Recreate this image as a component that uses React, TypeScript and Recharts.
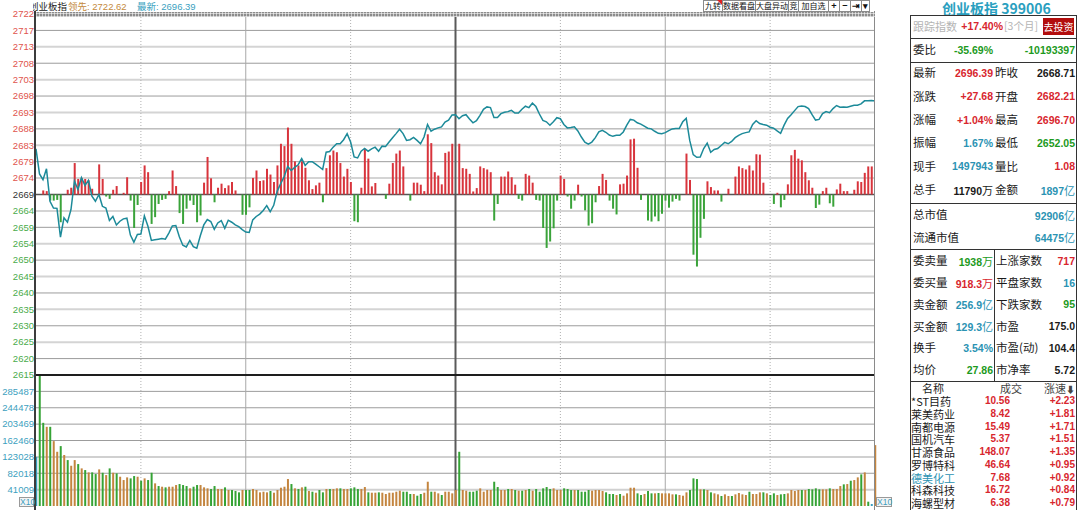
import React from "react";
import { ComposedChart, Line, Bar, Cell, XAxis, YAxis, CartesianGrid } from "recharts";

// 创业板指 399006 intraday, one point per minute (0 = 9:30, 120 = 11:30/13:00, 240 = 15:00)
const PREV_CLOSE = 2668.71;
const PRICE_LO = 2615.34;
const PRICE_HI = 2722.08;

// index change vs. previous close, in points
const indexChange = [
  13.5, 6.1, 4.4, 7.6, -2.0, -4.0, -4.1, -12.6, -6.9, -8.2,
  -4.5, 4.0, 1.5, 5.0, 2.7, 4.2, -0.5, -2.0, 0.0, -3.5,
  -4.0, -7.7, -6.5, -9.0, -7.9, -7.2, -7.0, -12.0, -14.1, -11.8,
  -11.7, -6.3, -9.3, -13.6, -13.4, -13.2, -13.0, -13.2, -11.4, -9.3,
  -9.2, -12.5, -15.0, -15.5, -13.6, -15.4, -15.9, -12.2, -9.0, -7.4,
  -8.0, -10.3, -8.4, -7.7, -10.0, -7.6, -8.2, -9.0, -9.5, -10.4,
  -11.1, -11.2, -7.5, -6.5, -5.8, -4.7, -3.3, -5.1, -3.2, 1.0,
  3.2, 5.3, 8.3, 7.1, 8.0, 8.8, 10.6, 8.6, 9.7, 9.7,
  9.0, 8.2, 7.4, 12.5, 12.7, 14.0, 15.0, 15.0, 16.2, 18.0,
  15.5, 11.1, 10.8, 12.8, 13.6, 12.8, 13.5, 14.0, 12.8, 14.3,
  14.2, 15.5, 16.8, 18.0, 19.3, 18.0, 16.0, 16.2, 16.9, 16.0,
  15.0, 17.0, 20.7, 18.7, 19.3, 19.7, 20.0, 21.4, 22.0, 23.5,
  23.6, 22.4, 23.3, 23.6, 22.3, 21.2, 21.8, 23.4, 25.2, 25.9,
  25.7, 22.8, 22.8, 23.9, 24.3, 24.5, 24.9, 24.1, 24.1, 25.2,
  26.1, 25.7, 27.0, 26.0, 23.8, 21.9, 21.5, 20.5, 21.5, 22.7,
  22.4, 20.7, 19.7, 19.8, 20.0, 18.8, 17.0, 15.5, 14.9, 15.5,
  16.8, 18.5, 19.0, 18.4, 17.6, 17.2, 17.5, 17.5, 18.5, 20.5,
  22.2, 22.0, 21.2, 20.8, 20.2, 19.6, 19.4, 18.7, 18.1, 18.0,
  18.3, 18.9, 19.4, 19.5, 19.5, 21.5, 22.5, 16.0, 11.8, 11.0,
  11.1, 13.6, 15.2, 12.5, 13.3, 13.6, 14.5, 15.4, 15.0, 15.7,
  16.8, 17.5, 18.0, 18.3, 18.5, 20.7, 21.8, 21.0, 20.7, 20.5,
  19.9, 19.6, 18.8, 18.1, 20.5, 22.5, 23.6, 24.8, 26.0, 26.2,
  26.0, 25.4, 23.6, 22.0, 22.2, 23.9, 24.5, 24.2, 25.4, 26.3,
  25.8, 25.9, 25.8, 26.1, 26.4, 26.4, 26.8, 27.7, 27.7, 27.8,
  27.68,
];

// red / green strength bars, drawn from the previous-close line (same point scale)
const buyPower = [
  0, 0, 1.2, 1.0, -1.8, -1.8, -1.6, -8.2, 0, 1.4,
  2.0, 9.3, 4.6, 4.9, 4.6, 4.2, 1.7, 0, 8.9, 4.6,
  -0.6, -1.3, 1.4, 2.5, 0, 0.5, 5.1, -1.8, -9.9, -3.1,
  3.7, 8.6, 6.6, -8.7, -6.7, -2.8, -1.6, -1.3, 1.0, 7.1,
  2.5, -5.5, -8.7, -4.2, -1.8, -3.1, -8.2, -6.2, 3.5, 11.1,
  4.8, -2.3, 2.0, 3.2, 1.9, 2.7, 3.7, 1.2, 0, -6.0,
  -6.0, -3.8, 4.9, 7.1, 4.0, 4.2, 7.6, 5.9, 3.7, 8.6,
  15.0, 14.3, 19.8, 15.0, 9.8, 8.6, 9.8, 7.9, 4.2, 1.6,
  2.7, 3.5, -2.3, 7.8, 11.6, 13.0, 12.5, 9.3, 5.3, 7.6,
  3.7, -7.9, -8.2, 2.0, 13.5, 10.6, 2.4, 3.4, 0, 0,
  -1.3, 3.2, 9.3, 12.1, 13.0, 8.3, 0, -1.8, 3.5, 3.5,
  2.9, 1.0, 17.8, 15.2, 6.6, 5.6, 3.0, 12.3, 12.7, 15.0,
  0, 15.0, 7.8, 7.6, 6.1, 0.9, 1.9, 8.3, 7.8, 7.4,
  6.6, -7.7, -2.8, 5.3, 5.3, 6.8, 5.1, 2.9, -1.3, -1.8,
  6.1, 5.6, 3.5, -1.6, -1.8, -9.9, -15.8, -13.9, -10.0, -1.8,
  5.6, 4.6, -0.6, -4.2, -1.8, 2.9, -0.6, -4.7, -9.2, -8.5,
  -2.3, 2.5, 6.1, 4.3, -1.8, -4.2, -5.9, 3.0, 3.2, 5.6,
  16.3, 16.5, 7.9, -1.6, 0, -7.7, -8.0, -6.5, -7.9, -5.7,
  -1.8, -3.9, -2.1, -1.3, -1.8, 0, 12.1, 4.3, -17.8, -21.3,
  -12.8, -7.2, 3.9, 2.2, 1.2, 1.2, -2.1, 0, 1.7, 0,
  5.3, 8.3, 7.8, 7.4, 8.6, 7.1, 11.9, 11.8, 3.5, 0,
  0, -2.8, 0.5, -3.8, -1.6, 3.0, 11.6, 13.2, 10.6, 10.1,
  6.6, 4.2, 2.0, -4.0, -3.0, 1.0, 2.0, -2.6, -3.6, 1.5,
  3.2, 1.0, 1.0, 0, 1.4, 3.9, 3.7, 6.4, 8.3, 8.3,
  0,
];

// volume per minute (hands / 10)
const volume = [
  123000, 327000, 208300, 198300, 198300, 162500, 135800, 150000, 127500, 115000,
  100800, 115000, 105000, 94200, 90000, 84200, 84200, 80000, 91700, 83300,
  77500, 94200, 83300, 81700, 73300, 65000, 71700, 69200, 75000, 73300,
  63300, 69200, 65000, 83300, 56700, 50000, 48300, 46700, 48300, 48300,
  52500, 55000, 52500, 50000, 44200, 48300, 52500, 52500, 46700, 44200,
  42500, 50000, 42500, 42500, 46700, 40000, 40000, 37500, 34200, 40000,
  40000, 40000, 42500, 40000, 34200, 35800, 34200, 37500, 33300, 40000,
  45800, 48300, 67500, 55000, 44200, 42500, 46700, 48300, 37500, 35800,
  33300, 40000, 34200, 42500, 42500, 42500, 44200, 44200, 42500, 42500,
  44200, 46700, 42500, 42500, 47500, 34200, 33300, 33300, 34200, 33300,
  30000, 33300, 33300, 35800, 38300, 35800, 35800, 30000, 30000, 25800,
  30000, 33300, 60800, 35800, 35800, 31700, 27500, 35800, 35800, 31700,
  40000, 135800, 40000, 38300, 35800, 35800, 38300, 44200, 35800, 40000,
  40000, 60800, 47500, 40000, 40000, 42500, 42500, 40000, 38300, 38300,
  40000, 42500, 38300, 42500, 35800, 44200, 47500, 42500, 44200, 40000,
  40000, 44200, 42500, 40000, 40000, 40000, 35800, 35800, 40000, 38300,
  40000, 40000, 37500, 34200, 30000, 30000, 27500, 30000, 25800, 31700,
  45800, 45800, 31700, 27500, 30000, 37500, 31700, 31700, 32500, 31700,
  31700, 31700, 29200, 29200, 27500, 25800, 34200, 40000, 69200, 67500,
  41700, 41700, 40000, 34200, 31700, 29200, 25000, 29200, 25000, 25000,
  29200, 32500, 29200, 27500, 35800, 30000, 30000, 34200, 34200, 31700,
  27500, 31700, 27500, 29200, 30000, 31700, 40000, 37500, 40000, 40000,
  40000, 42500, 41700, 44200, 41700, 41700, 41700, 44200, 42500, 42500,
  50000, 54200, 55000, 63300, 65000, 71700, 79200, 84200, 10800, 5000,
  152500,
];

// o = up tick, g = down tick, n = auction / unchanged
const volumeSide = (
  "nggogoogog" + "oogogoggog" + "ogogoooggo" + "goggogogoo" + "ogggoggooo" +
  "ggoogogggo" + "ggooooogoo" + "ooogogogog" + "oggogoogoo" + "gggoogoogo" +
  "ooooogggog" + "googoogooo" + "ogoogggooo" + "oggoogogog" + "ogogggggoo" +
  "ogggoggggo" + "ooogggogoo" + "ooggoggogo" + "ooogoooggg" + "ogogoogoog" +
  "oooogooogo" + "ggoggoooog" + "oggggoogoo" + "ogogoogogn" + "o"
).split("");

const priceTickLabels = [
  "2722", "2717", "2713", "2708", "2703", "2698", "2693", "2688", "2683", "2679", "2674", "2669",
  "2664", "2659", "2654", "2650", "2645", "2640", "2635", "2630", "2625", "2620", "2615",
];
const pctTickLabels = [
  "2.00%", "1.82%", "1.64%", "1.46%", "1.28%", "1.10%", "0.91%", "0.73%", "0.55%", "0.37%", "0.19%", "0.00%",
  "0.17%", "0.35%", "0.54%", "0.72%", "0.90%", "1.08%", "1.26%", "1.45%", "1.63%", "1.81%", "2.00%",
];
const volTickLabels = ["41009", "82018", "123028", "162460", "203469", "244478", "285487"];
const VOL_STEP = 41009;

const toolButtons = ["九转", "数据看盘", "大盘异动", "竞", "加自选", "+", "−", "⇥", "▾"];

const quoteLeft = [["最新", "2696.39"], ["涨跌", "+27.68"], ["涨幅", "+1.04%"], ["振幅", "1.67%"], ["现手", "1497943"], ["总手", "11790万"]];
const quoteRight = [["昨收", "2668.71"], ["开盘", "2682.21"], ["最高", "2696.70"], ["最低", "2652.05"], ["量比", "1.08"], ["金额", "1897亿"]];
const capRows = [["总市值", "92906亿"], ["流通市值", "64475亿"]];
const orderLeft = [["委卖量", "1938万"], ["委买量", "918.3万"], ["卖金额", "256.9亿"], ["买金额", "129.3亿"], ["换手", "3.54%"], ["均价", "27.86"]];
const orderRight = [["上涨家数", "717"], ["平盘家数", "16"], ["下跌家数", "95"], ["市盈", "175.0"], ["市盈(动)", "104.4"], ["市净率", "5.72"]];

const stockNames = ["*ST目药", "莱美药业", "南都电源", "国机汽车", "甘源食品", "罗博特科", "德美化工", "科森科技", "海螺型材"];
const stockLast = ["10.56", "8.42", "15.49", "5.37", "148.07", "46.64", "7.68", "16.72", "6.38"];
const stockSpeed = ["+2.23", "+1.81", "+1.71", "+1.51", "+1.35", "+0.95", "+0.92", "+0.84", "+0.79"];

const RED = "#d8262e";
const GREEN = "#1d9a1d";
const TEAL = "#2b93b3";
const DARK = "#1a1a1a";
const NUM = "'Liberation Sans', Arial, sans-serif";
const CJK = "'Noto Sans CJK SC', sans-serif";

const PRICE_STEP = (PRICE_HI - PRICE_LO) / 22;
const priceTicks = priceTickLabels.map((_, i) => PRICE_HI - i * PRICE_STEP);
const volTicks = volTickLabels.map((_, i) => (i + 1) * VOL_STEP);

const priceRows = indexChange.map((c, t) => {
  const b = buyPower[t];
  return {
    t,
    price: +(PREV_CLOSE + c).toFixed(2),
    power: b === 0 ? null : [Math.min(PREV_CLOSE, PREV_CLOSE + b), Math.max(PREV_CLOSE, PREV_CLOSE + b)],
  };
});
const volumeRows = volume.map((v, t) => ({ t, vol: v }));

const sideColor: Record<string, string> = { o: "#c4853f", g: "#35a335", n: "#3a9fbf" };

function tickColor(i: number) {
  return i < 11 ? "#e0544c" : i === 11 ? "#333" : "#4aab4a";
}

function PriceTick(props: any) {
  const { x, y, payload } = props;
  const i = Math.round((PRICE_HI - payload.value) / PRICE_STEP);
  return (
    <text x={x} y={y} dy={3.3} textAnchor="end" fontSize={9.5} fontFamily={NUM} fill={tickColor(i)}>
      {priceTickLabels[i]}
    </text>
  );
}

function PctTick(props: any) {
  const { x, y, payload } = props;
  const i = Math.round((PRICE_HI - payload.value) / PRICE_STEP);
  return (
    <text x={x} y={y} dy={3.3} textAnchor="start" fontSize={9.5} fontFamily={NUM} fill={tickColor(i)}>
      {pctTickLabels[i]}
    </text>
  );
}

function VolTick(props: any) {
  const { x, y, payload, anchor } = props;
  const i = Math.round(payload.value / VOL_STEP) - 1;
  return (
    <text x={x} y={y} dy={3.3} textAnchor={anchor} fontSize={9.5} fontFamily={NUM} fill="#3d9fc0">
      {volTickLabels[i]}
    </text>
  );
}

const dashedMinutes = [30, 90, 150, 210];
const solidMinutes = [60, 180];

function PriceChart() {
  const light = priceTicks.filter((_, i) => i % 2 === 0 && i > 0 && i < 22);
  const dark = priceTicks.filter((_, i) => i % 2 === 1 && i !== 11);
  return (
    <ComposedChart width={908} height={382} data={priceRows} margin={{ top: 14, right: 0, bottom: 7, left: 0 }}>
      <CartesianGrid vertical={false} horizontalValues={light} stroke="#d4d4d4" strokeWidth={2} />
      <CartesianGrid vertical={false} horizontalValues={dark} stroke="#9c9c9c" />
      <CartesianGrid horizontal={false} verticalValues={dashedMinutes} stroke="#b0b0b0" strokeDasharray="1 2" />
      <CartesianGrid horizontal={false} verticalValues={solidMinutes} stroke="#a8a8a8" />
      <CartesianGrid horizontal={false} verticalValues={[120]} stroke="#5a5a5a" strokeWidth={2} />
      <CartesianGrid vertical={false} horizontalValues={[PREV_CLOSE]} stroke="#555" strokeWidth={1.6} />
      <XAxis dataKey="t" type="number" domain={[0, 240]} hide />
      <YAxis
        domain={[PRICE_LO, PRICE_HI]}
        ticks={priceTicks}
        interval={0}
        width={36}
        axisLine={false}
        tickLine={false}
        tickSize={0}
        tickMargin={2}
        tick={<PriceTick />}
      />
      <YAxis
        yAxisId="r"
        orientation="right"
        domain={[PRICE_LO, PRICE_HI]}
        ticks={priceTicks}
        interval={0}
        width={33}
        axisLine={false}
        tickLine={false}
        tickSize={0}
        tickMargin={2}
        tick={<PctTick />}
      />
      <Bar dataKey="power" barSize={2} isAnimationActive={false}>
        {buyPower.map((b, i) => (
          <Cell key={i} fill={b > 0 ? "#d8343c" : "#3aa33a"} />
        ))}
      </Bar>
      <Line
        dataKey="price"
        type="linear"
        stroke="#1c8a99"
        strokeWidth={1.5}
        dot={false}
        activeDot={false}
        isAnimationActive={false}
      />
    </ComposedChart>
  );
}

function VolumeChart() {
  const light = [VOL_STEP, 3 * VOL_STEP];
  const dark = volTicks.filter((v) => !light.includes(v));
  return (
    <ComposedChart width={908} height={142} data={volumeRows} margin={{ top: 7, right: 0, bottom: 4, left: 0 }}>
      <CartesianGrid vertical={false} horizontalValues={light} stroke="#d0d0d0" strokeWidth={2} />
      <CartesianGrid vertical={false} horizontalValues={dark} stroke="#9c9c9c" />
      <CartesianGrid horizontal={false} verticalValues={dashedMinutes} stroke="#b0b0b0" strokeDasharray="1 2" />
      <CartesianGrid horizontal={false} verticalValues={solidMinutes} stroke="#a8a8a8" />
      <CartesianGrid horizontal={false} verticalValues={[120]} stroke="#5a5a5a" strokeWidth={2} />
      <XAxis dataKey="t" type="number" domain={[0, 240]} hide />
      <YAxis
        domain={[0, 8 * VOL_STEP]}
        ticks={volTicks}
        interval={0}
        width={36}
        axisLine={false}
        tickLine={false}
        tickSize={0}
        tickMargin={2}
        tick={<VolTick anchor="end" />}
      />
      <YAxis
        yAxisId="r"
        orientation="right"
        domain={[0, 8 * VOL_STEP]}
        ticks={volTicks}
        interval={0}
        width={33}
        axisLine={false}
        tickLine={false}
        tickSize={0}
        tickMargin={2}
        tick={<VolTick anchor="start" />}
      />
      <Bar dataKey="vol" barSize={2} isAnimationActive={false}>
        {volumeSide.map((s, i) => (
          <Cell key={i} fill={sideColor[s]} />
        ))}
      </Bar>
    </ComposedChart>
  );
}

function Txt({ x, y, children, color = DARK, size = 11, bold = false, right = false, font = CJK, h }: any) {
  const hh = h ?? size + 4;
  return (
    <div
      style={{
        position: "absolute",
        top: y - hh / 2,
        height: hh,
        lineHeight: `${hh}px`,
        left: right ? undefined : x,
        right: right ? 1080 - x : undefined,
        color,
        fontSize: size,
        fontWeight: bold ? 700 : 400,
        fontFamily: font,
        whiteSpace: "nowrap",
      }}
    >
      {children}
    </div>
  );
}

// value like "1938万": digits bold, unit in CJK
function Val({ x, y, text, color }: any) {
  const m = text.match(/^([^万亿]*)([万亿]?)$/);
  return (
    <Txt x={x} y={y} right color={color} size={10.5} font={NUM}>
      <span style={{ fontWeight: 700 }}>{m[1]}</span>
      {m[2] && <span style={{ fontFamily: CJK, fontSize: 11 }}>{m[2]}</span>}
    </Txt>
  );
}

function Line2({ x, y, w, h, c = "#333" }: any) {
  return <div style={{ position: "absolute", left: x, top: y, width: w, height: h, background: c }} />;
}

function Header() {
  const widths = [19, 33, 33, 10, 30, 11, 11, 11, 8];
  let x = 703;
  return (
    <>
      <div style={{ position: "absolute", left: 33, top: 0, width: 34, height: 12, overflow: "hidden" }}>
        <div style={{ position: "absolute", left: -4, top: 0, fontSize: 9.5, lineHeight: "12px", fontFamily: CJK, color: "#222", whiteSpace: "nowrap" }}>
          创业板指
        </div>
      </div>
      <Txt x={68} y={6} h={12} size={9.5} color="#c48a3c" font={NUM}>
        <span style={{ fontFamily: CJK }}>领先</span>: 2722.62
      </Txt>
      <Txt x={137} y={6} h={12} size={9.5} color="#3a9fc0" font={NUM}>
        <span style={{ fontFamily: CJK }}>最新</span>: 2696.39
      </Txt>
      <div
        style={{
          position: "absolute",
          left: 36,
          top: 12,
          width: 839,
          height: 5,
          backgroundColor: "#8c8c8c",
          backgroundImage:
            "repeating-linear-gradient(90deg, rgba(255,255,255,0.55) 0 1px, transparent 1px 3px), repeating-linear-gradient(0deg, rgba(255,255,255,0.55) 0 1px, transparent 1px 3px)",
        }}
      />
      {toolButtons.map((b, i) => {
        const left = x;
        x += widths[i];
        return (
          <div
            key={b}
            style={{
              position: "absolute",
              left,
              top: 0,
              width: widths[i] + 1,
              height: 12,
              border: "1px solid #8a8a8a",
              boxSizing: "border-box",
              background: "#fff",
              fontSize: i >= 5 ? 9 : 8,
              lineHeight: "10px",
              textAlign: "center",
              fontFamily: CJK,
              fontWeight: i >= 5 ? 700 : 400,
              color: "#111",
              whiteSpace: "nowrap",
              overflow: "hidden",
            }}
          >
            {b}
          </div>
        );
      })}
      <div
        style={{
          position: "absolute",
          left: 717,
          top: 0,
          width: 0,
          height: 0,
          borderTop: "5px solid #e02020",
          borderLeft: "5px solid transparent",
        }}
      />
    </>
  );
}

function Frame() {
  const box = {
    position: "absolute" as const,
    top: 497,
    height: 10,
    border: "1px solid #999",
    boxSizing: "border-box" as const,
    fontSize: 8.5,
    lineHeight: "8px",
    color: "#3d9fc0",
    fontFamily: NUM,
    textAlign: "center" as const,
    background: "#f4f4f4",
  };
  return (
    <>
      <Line2 x={34} y={11} w={2} h={499} c="#3c3c3c" />
      <Line2 x={874} y={11} w={1} h={499} c="#8a8a8a" />
      <Line2 x={36} y={374} w={838} h={2} c="#1e1e1e" />
      <div style={{ ...box, left: 19, width: 15 }}>X10</div>
      <div style={{ ...box, left: 876, width: 16 }}>X10</div>
    </>
  );
}

function SidePanel() {
  const leftColors = [RED, RED, RED, TEAL, TEAL, DARK];
  const rightColors = [DARK, RED, RED, GREEN, RED, TEAL];
  const orderLColors = [GREEN, RED, TEAL, TEAL, TEAL, GREEN];
  const orderRColors = [RED, TEAL, GREEN, DARK, DARK, DARK];
  return (
    <>
      <Txt x={942} y={8} h={15} size={14} bold color="#2a9fc0">创业板指 399006</Txt>
      <Line2 x={910} y={15} w={167} h={1} />
      <Line2 x={910} y={15} w={1} h={495} />
      <Line2 x={1076} y={15} w={1} h={495} />
      <Txt x={913} y={26} size={11} color="#b4b4b4">跟踪指数</Txt>
      <Txt x={1003} y={26} right size={10.5} bold font={NUM} color={RED}>+17.40%</Txt>
      <Txt x={1004} y={26} size={10.5} color="#b4b4b4">[3个月]</Txt>
      <div style={{ position: "absolute", left: 1043, top: 18, width: 31, height: 17, background: "#b20d0d", color: "#fff", fontSize: 10, lineHeight: "17px", textAlign: "center", fontFamily: CJK }}>去投资</div>
      <Line2 x={910} y={38} w={167} h={1} />
      <Txt x={913} y={50} size={11.5}>委比</Txt>
      <Txt x={993} y={50} right size={10.5} bold font={NUM} color={GREEN}>-35.69%</Txt>
      <Txt x={1075} y={50} right size={10.5} bold font={NUM} color={GREEN}>-10193397</Txt>
      <Line2 x={910} y={62} w={167} h={1} />
      {quoteLeft.map(([l, v], i) => {
        const y = 73 + i * 23.4;
        return (
          <React.Fragment key={l}>
            <Txt x={913} y={y} size={11.5}>{l}</Txt>
            <Val x={993} y={y} text={v} color={leftColors[i]} />
            <Txt x={995} y={y} size={11.5}>{quoteRight[i][0]}</Txt>
            <Val x={1075} y={y} text={quoteRight[i][1]} color={rightColors[i]} />
          </React.Fragment>
        );
      })}
      <Line2 x={910} y={203} w={167} h={1} />
      {capRows.map(([l, v], i) => {
        const y = 215 + i * 22.5;
        return (
          <React.Fragment key={l}>
            <Txt x={913} y={y} size={11.5}>{l}</Txt>
            <Val x={1075} y={y} text={v} color={TEAL} />
          </React.Fragment>
        );
      })}
      <Line2 x={910} y={249} w={167} h={1} />
      <Line2 x={994} y={249} w={1} h={132} />
      {orderLeft.map(([l, v], i) => {
        const y = 261 + i * 21.8;
        return (
          <React.Fragment key={l}>
            <Txt x={913} y={y} size={11.5}>{l}</Txt>
            <Val x={993} y={y} text={v} color={orderLColors[i]} />
            <Txt x={996} y={y} size={11.5}>{orderRight[i][0]}</Txt>
            <Val x={1075} y={y} text={orderRight[i][1]} color={orderRColors[i]} />
          </React.Fragment>
        );
      })}
      <Line2 x={910} y={381} w={167} h={1} />
      <Txt x={922} y={388} h={12} size={11}>名称</Txt>
      <Txt x={1000} y={388} h={12} size={11} color="#444">成交</Txt>
      <Txt x={1075} y={388} h={12} right size={11} color="#444">涨速<span style={{ fontSize: 9 }}>⬇</span></Txt>
      {stockNames.map((n, i) => {
        const y = 401 + i * 12.75;
        return (
          <React.Fragment key={n}>
            <Txt x={911} y={y} h={12} size={11} color={n === "德美化工" ? TEAL : DARK}>{n}</Txt>
            <Txt x={1010} y={y} h={12} right size={10} bold font={NUM} color={RED}>{stockLast[i]}</Txt>
            <Txt x={1075} y={y} h={12} right size={10} bold font={NUM} color={RED}>{stockSpeed[i]}</Txt>
          </React.Fragment>
        );
      })}
    </>
  );
}

export default function App() {
  return (
    <div style={{ position: "fixed", left: 0, top: 0, width: 1080, height: 510, overflow: "hidden", background: "#fff" }}>
      <div style={{ position: "absolute", left: 0, top: 0 }}>
        <PriceChart />
      </div>
      <div style={{ position: "absolute", left: 0, top: 368 }}>
        <VolumeChart />
      </div>
      <Frame />
      <Header />
      <SidePanel />
    </div>
  );
}
